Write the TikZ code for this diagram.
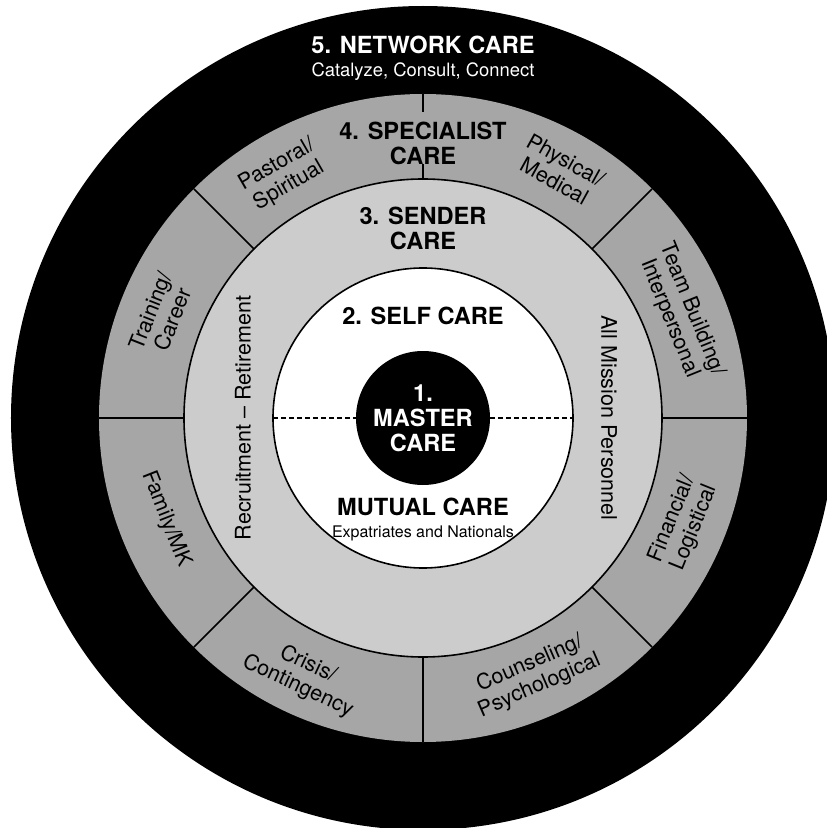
\documentclass[tikz,border=0pt]{standalone}
\usepackage{fontspec}
\setmainfont{TeX Gyre Heros}
\definecolor{specgray}{gray}{0.65}
\definecolor{sendgray}{gray}{0.8}
\begin{document}
\begin{tikzpicture}[x=1pt, y=1pt,
  ring/.style = {circle, minimum size=#1pt, inner sep=0pt, outer sep=0pt, line width=1.6pt},
  head/.style = {font=\bfseries\fontsize{23.6}{25}\selectfont, align=center, inner sep=0pt},
  area/.style = {font=\fontsize{21.5}{24}\selectfont, align=center, inner sep=0pt},
  sep/.style = {line width=1.6pt}]
\useasboundingbox (-423,-410) rectangle (404,418);
\node[ring=824, fill=black] (network) at (0,0) {};
\node[ring=648, fill=specgray] (specialist) at (0,0) {};
\node[ring=478, fill=sendgray, draw] (sender) at (0,0) {};
\node[ring=300, fill=white, draw] (self) at (0,0) {};
\node[ring=134, fill=black, text=white, head] (master) at (0,0) {1.\\MASTER\\CARE};
\draw[dash pattern=on 5pt off 3pt, line width=1.2pt] (self.west) -- (master.west);
\draw[dash pattern=on 5pt off 3pt, line width=1.2pt] (master.east) -- (self.east);
\foreach \a in {0,45,135,180,225,270,315}
  \draw[sep] (sender.\a) -- (specialist.\a);
\draw[sep] (specialist.90) -- ++(0,-18);
\draw[sep] (sender.90) -- ++(0,15);
\node[head, text=white, anchor=base] (nettitle) at (0,364.7) {5. NETWORK CARE};
\node[font=\fontsize{18.4}{20}\selectfont, text=white, anchor=base, inner sep=0pt] (netsub) at (0,341.3) {Catalyze, Consult, Connect};
\node[head] (spectitle) at (0,275) {4. SPECIALIST\\CARE};
\node[head] (sendtitle) at (0,190) {3. SENDER\\CARE};
\node[head, anchor=base] (selftitle) at (0,94) {2. SELF CARE};
\node[head, anchor=base] (mutual) at (0,-97) {MUTUAL CARE};
\node[font=\fontsize{16}{18}\selectfont, anchor=base, inner sep=0pt] (mutualsub) at (0,-119) {Expatriates and Nationals};
\node[area, rotate=90] (recruit) at (-180,0) {Recruitment -- Retirement};
\node[area, rotate=-90] (mission) at (186,0) {All Mission Personnel};
\node[area, rotate=30] (pastoral) at (120:280) {Pastoral/\\Spiritual};
\node[area, rotate=-29] (physical) at (61:283) {Physical/\\Medical};
\node[area, rotate=-68] (team) at (22:278) {Team Building/\\Interpersonal};
\node[area, rotate=68.5] (training) at (158.5:281) {Training/\\Career};
\node[area, rotate=-68.5] (family) at (201.5:276) {Family/MK};
\node[area, rotate=68] (financial) at (338:281) {Financial/\\Logistical};
\node[area, rotate=-25] (crisis) at (245:284) {Crisis/\\Contingency};
\node[area, rotate=23.5] (counsel) at (293.5:280) {Counseling/\\Psychological};
\end{tikzpicture}
\end{document}
